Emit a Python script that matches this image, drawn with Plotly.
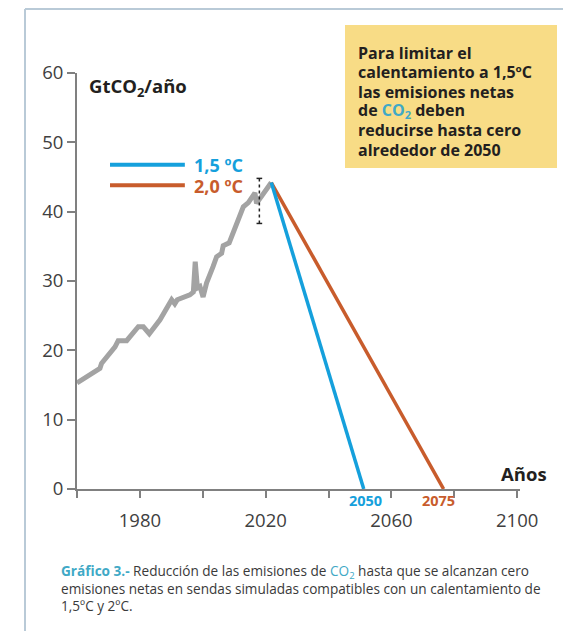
import plotly.graph_objects as go

# ---- data ----
hist_years = [1960, 1967.3, 1967.8, 1972.1, 1973.1, 1975.8, 1979.5, 1981.1, 1983.0, 1986.4,
              1990.1, 1991.1, 1991.9, 1995.9, 1997.0, 1997.6, 1998.3, 1999.1, 2000.1, 2001.2,
              2003.3, 2004.4, 2006.0, 2006.5, 2008.4, 2012.9, 2014.5, 2016.6, 2017.1, 2021.8]
hist_values = [15.3, 17.4, 18.1, 20.5, 21.4, 21.4, 23.4, 23.4, 22.4, 24.4,
               27.3, 26.7, 27.3, 28.0, 28.4, 32.8, 29.0, 29.2, 27.7, 29.7,
               32.1, 33.5, 34.0, 35.1, 35.5, 40.7, 41.3, 42.7, 41.2, 44.2]

path15_years = [2021.8, 2051.2]
path15_values = [44.2, 0]
path20_years = [2021.8, 2076.6]
path20_values = [44.2, 0]

err_year = 2018
err_low = 38.3
err_high = 44.8

x_tickvals = [1960, 1980, 2000, 2020, 2040, 2060, 2080, 2100]
x_ticktext = ["", "1980", "", "2020", "", "2060", "", "2100"]
y_tickvals = [0, 10, 20, 30, 40, 50, 60]

box_lines = ["Para limitar el", "calentamiento a 1,5ºC", "las emisiones netas",
             "de <span style='color:#3fa9c6'>CO<sub>2</sub></span> deben",
             "reducirse hasta cero", "alrededor de 2050"]

GRAY = "#a3a3a3"
BLUE = "#15a0dc"
ORANGE = "#c85c2c"
TEAL = "#3fa9c6"
DARK = "#231f20"
FONT = "Open Sans"

# page has an 8px body margin; figure is shrunk to compensate
OFF = 8
W, H = 571 - OFF, 631 - OFF
# plot area in reference-image pixels
L, R, T, B = 77, 520, 73, 489
def px(x):
    return (x - L) / (R - L)
def py(y):
    return (B - y) / (B - T)

fig = go.Figure()

fig.add_trace(go.Scatter(x=hist_years, y=hist_values, mode="lines",
                         line=dict(color=GRAY, width=5), hoverinfo="skip"))
fig.add_trace(go.Scatter(x=path20_years, y=path20_values, mode="lines",
                         line=dict(color=ORANGE, width=3.5), hoverinfo="skip"))
fig.add_trace(go.Scatter(x=path15_years, y=path15_values, mode="lines",
                         line=dict(color=BLUE, width=3.5), hoverinfo="skip"))
fig.add_trace(go.Scatter(x=[err_year, err_year], y=[err_low, err_high], mode="lines",
                         line=dict(color="#222222", width=1.5, dash="dot"), hoverinfo="skip"))

shapes = []
for v in (err_low, err_high):
    shapes.append(dict(type="line", xref="x", yref="y", x0=err_year - 0.9, x1=err_year + 0.9,
                       y0=v, y1=v, line=dict(color="#222222", width=1.5)))
shapes.append(dict(type="line", xref="x", yref="y", x0=1970.5, x1=1994.3, y0=46.75, y1=46.75,
                   line=dict(color=BLUE, width=4)))
shapes.append(dict(type="line", xref="x", yref="y", x0=1970.5, x1=1994.3, y0=43.8, y1=43.8,
                   line=dict(color=ORANGE, width=4)))
shapes.append(dict(type="rect", xref="paper", yref="paper", x0=px(345), x1=px(557),
                   y0=py(168), y1=py(25), fillcolor="#f8dc86", line=dict(width=0), layer="below"))
shapes.append(dict(type="line", xref="paper", yref="paper", x0=px(25), x1=px(571),
                   y0=py(9), y1=py(9), line=dict(color="#b9cad7", width=2)))
shapes.append(dict(type="line", xref="paper", yref="paper", x0=px(25), x1=px(25),
                   y0=py(9), y1=py(640), line=dict(color="#b9cad7", width=2)))

annotations = [
    dict(text="<b>GtCO<sub>2</sub>/año</b>", xref="paper", yref="paper", x=px(87), y=py(87),
         xanchor="left", yanchor="middle", showarrow=False,
         font=dict(family=FONT, size=18.5, color=DARK)),
    dict(text="<b>1,5 ºC</b>", xref="paper", yref="paper", x=px(192), y=py(165),
         xanchor="left", yanchor="middle", showarrow=False,
         font=dict(family=FONT, size=18, color=BLUE)),
    dict(text="<b>2,0 ºC</b>", xref="paper", yref="paper", x=px(192), y=py(186),
         xanchor="left", yanchor="middle", showarrow=False,
         font=dict(family=FONT, size=18, color=ORANGE)),
    dict(text="<b>Años</b>", xref="paper", yref="paper", x=px(549), y=py(473),
         xanchor="right", yanchor="middle", showarrow=False,
         font=dict(family=FONT, size=18.5, color=DARK)),
    dict(text="<b>2050</b>", xref="paper", yref="paper", x=px(365), y=py(500),
         xanchor="center", yanchor="middle", showarrow=False,
         font=dict(family=FONT, size=14.5, color=BLUE)),
    dict(text="<b>2075</b>", xref="paper", yref="paper", x=px(438), y=py(500),
         xanchor="center", yanchor="middle", showarrow=False,
         font=dict(family=FONT, size=14.5, color=ORANGE)),
    dict(text=f"<b><span style='color:{TEAL}'>Gráfico 3.-</span></b> Reducción de las emisiones de "
              f"<span style='color:{TEAL}'>CO<sub>2</sub></span> hasta que se alcanzan cero<br>"
              "emisiones netas en sendas simuladas compatibles con un calentamiento de<br>"
              "1,5ºC y 2ºC.",
         xref="paper", yref="paper", x=px(59), y=py(559), xanchor="left", yanchor="top",
         align="left", showarrow=False, font=dict(family=FONT, size=13.6, color="#3a3a3a")),
]
for i, line in enumerate(box_lines):
    annotations.append(dict(text=f"<b>{line}</b>", xref="paper", yref="paper",
                            x=px(356), y=py(53 + 19.3 * i), xanchor="left", yanchor="middle",
                            align="left", showarrow=False,
                            font=dict(family=FONT, size=16, color=DARK)))

fig.update_layout(
    width=W, height=H,
    margin=dict(l=L - OFF, r=W - (R - OFF), t=T - OFF, b=H - (B - OFF)),
    paper_bgcolor="white", plot_bgcolor="white",
    showlegend=False,
    shapes=shapes, annotations=annotations,
    font=dict(family=FONT, color="#404040"),
    xaxis=dict(range=[1960, 2100.9], tickvals=x_tickvals, ticktext=x_ticktext,
               showgrid=False, zeroline=False, showline=True, linecolor="#808080", linewidth=2,
               ticks="outside", ticklen=7, tickwidth=2, tickcolor="#808080", ticklabelstandoff=7,
               tickfont=dict(family=FONT, size=18.5, color="#404040"), fixedrange=True),
    yaxis=dict(range=[0, 60], tickvals=y_tickvals,
               showgrid=False, zeroline=False, showline=True, linecolor="#808080", linewidth=2,
               ticks="outside", ticklen=8, tickwidth=2, tickcolor="#808080",
               tickfont=dict(family=FONT, size=18.5, color="#404040"), fixedrange=True),
)

fig.write_html("out.html")
